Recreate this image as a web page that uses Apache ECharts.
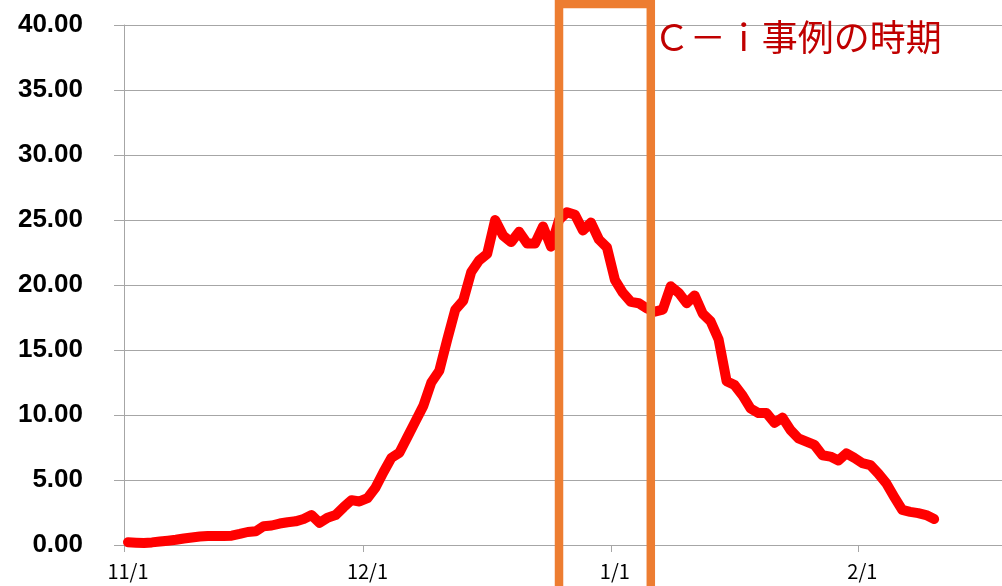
<!DOCTYPE html>
<html>
<head>
<meta charset="utf-8">
<script src="https://cdn.jsdelivr.net/npm/echarts@6/dist/echarts.min.js"></script>
<style>
html,body{margin:0;padding:0;background:#ffffff;}
#chart{width:1002px;height:586px;}
</style>
</head>
<body>
<div id="chart"></div>
<script>
// Axis months shown: [month, number of days on axis]
const axisMonths = [[11, 30], [12, 31], [1, 31], [2, 18]];
// Daily values from 11/1 to 2/10
const values = [
  0.22, 0.18, 0.15, 0.20, 0.27, 0.33, 0.40, 0.50, 0.58, 0.65,
  0.70, 0.70, 0.70, 0.72, 0.85, 1.00, 1.05, 1.45, 1.50, 1.65,
  1.75, 1.82, 2.00, 2.30, 1.70, 2.10, 2.30, 2.90, 3.45, 3.35,
  3.60, 4.40, 5.60, 6.70, 7.10, 8.30, 9.50, 10.70, 12.50, 13.40,
  15.80, 18.10, 18.80, 21.00, 21.90, 22.40, 25.00, 23.80, 23.30, 24.10,
  23.20, 23.20, 24.50, 22.95, 25.00, 25.60, 25.40, 24.20, 24.80, 23.50,
  22.90, 20.40, 19.40, 18.70, 18.60, 18.20, 17.95, 18.10, 19.90, 19.40,
  18.60, 19.20, 17.80, 17.20, 15.80, 12.60, 12.30, 11.50, 10.50, 10.15,
  10.15, 9.40, 9.80, 8.85, 8.20, 7.95, 7.70, 6.90, 6.80, 6.50,
  7.05, 6.70, 6.30, 6.15, 5.50, 4.75, 3.70, 2.70, 2.55, 2.45,
  2.30, 2.00
];
const yTicks = [0, 5, 10, 15, 20, 25, 30, 35, 40];
const periodStart = '12/25';
const periodEnd = '1/6';
const periodLabel = 'Ｃ－ｉ事例の時期';

const categories = [];
axisMonths.forEach(function (m) {
  for (let d = 1; d <= m[1]; d++) categories.push(m[0] + '/' + d);
});
const isFirst = function (i, v) { return String(v).split('/')[1] === '1'; };

const chart = echarts.init(document.getElementById('chart'), null, {renderer: 'canvas'});
chart.setOption({
  animation: false,
  backgroundColor: '#ffffff',
  grid: {left: 124, right: 0, top: 25, bottom: 41, containLabel: false},
  xAxis: {
    type: 'category',
    data: categories,
    boundaryGap: true,
    axisLine: {show: true, lineStyle: {color: '#A6A6A6', width: 1}},
    axisTick: {show: true, length: 7, interval: isFirst, alignWithLabel: false, lineStyle: {color: '#A6A6A6', width: 1}},
    axisLabel: {
      interval: isFirst,
      margin: 16,
      color: '#000000',
      fontSize: 20,
      fontFamily: '"Noto Sans CJK JP", sans-serif'
    },
    splitLine: {show: false}
  },
  yAxis: {
    type: 'value',
    min: yTicks[0],
    max: yTicks[yTicks.length - 1],
    interval: 5,
    axisLine: {show: true, lineStyle: {color: '#A6A6A6', width: 1}},
    axisTick: {show: true, length: 10, lineStyle: {color: '#A6A6A6', width: 1}},
    splitLine: {show: true, lineStyle: {color: '#A6A6A6', width: 1}},
    axisLabel: {
      margin: 41,
      color: '#000000',
      fontSize: 26,
      fontWeight: 'bold',
      fontFamily: '"Liberation Sans", Arial, sans-serif',
      formatter: function (v) { return v.toFixed(2); }
    }
  },
  series: [{
    type: 'line',
    data: values,
    symbol: 'none',
    smooth: false,
    z: 3,
    lineStyle: {color: '#FF0000', width: 10, cap: 'round', join: 'round'}
  }]
});

// Annotation rectangle and label, placed through the category scale
const slot = chart.convertToPixel({xAxisIndex: 0}, categories[1]) - chart.convertToPixel({xAxisIndex: 0}, categories[0]);
const x1 = chart.convertToPixel({xAxisIndex: 0}, periodStart);
const x2 = chart.convertToPixel({xAxisIndex: 0}, periodEnd) - slot / 2;
chart.setOption({
  graphic: [
    {
      type: 'rect',
      z: 100,
      shape: {x: x1, y: 4, width: x2 - x1, height: 620},
      style: {fill: null, stroke: '#ED7D31', lineWidth: 8.5}
    },
    {
      type: 'text',
      z: 100,
      x: x2 + 3,
      y: 37,
      style: {
        text: periodLabel,
        fill: '#C00000',
        fontSize: 36,
        fontFamily: '"Noto Sans CJK JP", sans-serif',
        verticalAlign: 'middle',
        align: 'left'
      }
    }
  ]
});
</script>
</body>
</html>
